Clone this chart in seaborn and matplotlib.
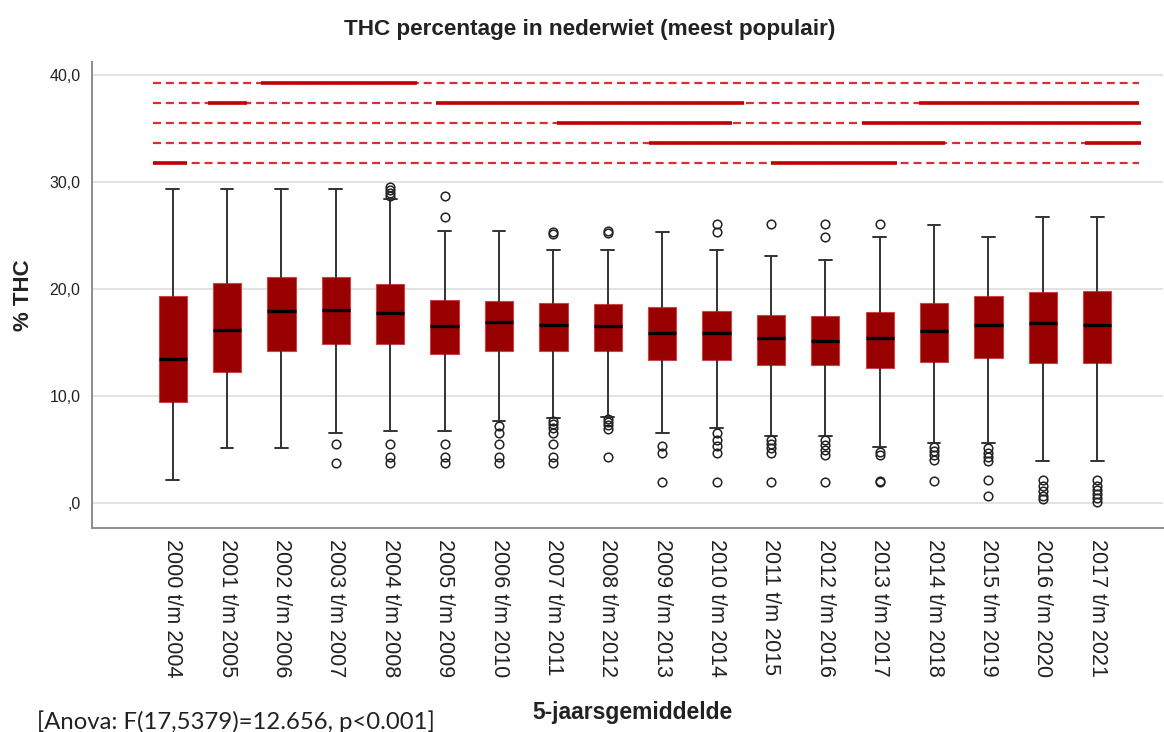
import numpy as np
import matplotlib
matplotlib.use("Agg")
import matplotlib.pyplot as plt
import seaborn as sns

# ---------------- data ----------------
categories = ["2000 t/m 2004", "2001 t/m 2005", "2002 t/m 2006", "2003 t/m 2007",
              "2004 t/m 2008", "2005 t/m 2009", "2006 t/m 2010", "2007 t/m 2011",
              "2008 t/m 2012", "2009 t/m 2013", "2010 t/m 2014", "2011 t/m 2015",
              "2012 t/m 2016", "2013 t/m 2017", "2014 t/m 2018", "2015 t/m 2019",
              "2016 t/m 2020", "2017 t/m 2021"]

whisker_low = [2.18, 5.17, 5.17, 6.54, 6.76, 6.76, 7.69, 7.94, 8.10, 6.54,
               7.00, 6.32, 6.32, 5.29, 5.67, 5.67, 3.95, 3.95]
quartile1 = [9.50, 12.27, 14.23, 14.92, 14.92, 13.98, 14.27, 14.27, 14.27, 13.39,
             13.39, 12.93, 12.93, 12.67, 13.20, 13.60, 13.11, 13.11]
median = [13.46, 16.22, 17.94, 18.07, 17.81, 16.60, 16.97, 16.63, 16.54, 15.95,
          15.95, 15.45, 15.14, 15.48, 16.10, 16.63, 16.82, 16.63]
quartile3 = [19.37, 20.56, 21.15, 21.15, 20.47, 19.03, 18.94, 18.69, 18.60, 18.32,
             17.97, 17.60, 17.50, 17.88, 18.69, 19.37, 19.75, 19.87]
whisker_high = [29.35, 29.35, 29.35, 29.35, 28.40, 25.45, 25.45, 23.64, 23.64, 25.33,
                23.64, 23.10, 22.74, 24.92, 26.00, 24.92, 26.73, 26.73]
outliers = [
    [],
    [],
    [],
    [5.54, 3.74],
    [29.60, 29.30, 29.00, 28.70, 5.54, 4.36, 3.74],
    [28.75, 26.73, 5.54, 4.36, 3.74],
    [7.22, 6.60, 5.54, 4.36, 3.74],
    [25.40, 25.20, 7.72, 7.41, 7.00, 6.54, 5.54, 4.36, 3.74],
    [25.45, 25.30, 7.90, 7.60, 7.30, 6.90, 4.30],
    [5.36, 4.67, 2.02],
    [26.10, 25.33, 6.54, 5.92, 5.36, 4.67, 2.02],
    [26.10, 5.92, 5.54, 5.14, 4.67, 2.02],
    [26.10, 24.92, 5.92, 5.45, 4.98, 4.52, 2.02],
    [26.10, 4.83, 4.52, 2.07, 1.95],
    [5.29, 4.89, 4.49, 4.05, 2.07],
    [5.20, 4.73, 4.36, 3.99, 2.14, 0.64],
    [2.17, 1.64, 1.17, 0.70, 0.39],
    [2.17, 1.64, 1.23, 0.86, 0.48, 0.08],
]

# homogeneous subsets (row 0 = top row), extent in category units
subset_row = [0, 1, 1, 1, 2, 2, 3, 3, 4, 4]
subset_start = [1.63, 0.64, 4.85, 13.72, 7.06, 12.67, 8.76, 16.77, -0.36, 11.01]
subset_end = [4.50, 1.37, 10.50, 17.77, 10.29, 17.80, 14.21, 17.80, 0.27, 13.31]

ytick_values = [0, 10, 20, 30, 40]
ytick_labels = [",0", "10,0", "20,0", "30,0", "40,0"]

title = "THC percentage in nederwiet (meest populair)"
ylabel = "% THC"
xlabel = "5-jaarsgemiddelde"
note = "[Anova: F(17,5379)=12.656, p<0.001]"

# ---------------- styling ----------------
sns.set_style("white")
plt.rcParams["font.family"] = ["Liberation Sans", "DejaVu Sans"]

W, H = 1164, 732
fig = plt.figure(figsize=(W / 100, H / 100), dpi=100)
ax_left, ax_right, ax_top, ax_bottom = 91.7, 1163.0, 62.0, 527.7
ax = fig.add_axes([ax_left / W, 1 - ax_bottom / H, (ax_right - ax_left) / W,
                   (ax_bottom - ax_top) / H])

stats = []
for i, c in enumerate(categories):
    stats.append(dict(label=c, whislo=whisker_low[i], q1=quartile1[i], med=median[i],
                      q3=quartile3[i], whishi=whisker_high[i],
                      fliers=np.array(outliers[i], dtype=float)))

ax.bxp(stats, positions=np.arange(len(categories)), widths=0.52, capwidths=0.235,
       patch_artist=True, showfliers=True, manage_ticks=False,
       boxprops=dict(facecolor="#990000", edgecolor="#c94545", linewidth=0.8),
       medianprops=dict(color="black", linewidth=2.4, solid_capstyle="butt"),
       whiskerprops=dict(color="#333333", linewidth=1.4),
       capprops=dict(color="#333333", linewidth=1.4),
       flierprops=dict(marker="o", markerfacecolor="none", markeredgecolor="#222222",
                       markersize=6.2, markeredgewidth=1.1))

# subset rows
row_levels = [39.25, 37.38, 35.51, 33.64, 31.78]
dash_start, dash_end = -0.36, 17.77
for y in row_levels:
    ax.plot([dash_start, dash_end], [y, y], color="#d63030", lw=1.6,
            dashes=(3.6, 2.2), zorder=3)
for r, s, e in zip(subset_row, subset_start, subset_end):
    y = row_levels[r]
    ax.plot([s, e], [y, y], color="#c00000", lw=2.6, solid_capstyle="butt", zorder=4)

# axes
ax.set_xlim(-1.49, 18.21)
ax.set_ylim(-2.28, 41.24)
ax.set_yticks(ytick_values)
ax.set_yticklabels(ytick_labels, fontsize=11.5, color="#222222")
ax.set_xticks(np.arange(len(categories)))
ax.set_xticklabels(categories, rotation=-90, fontsize=15.5, color="#222222",
                   ha="center", va="top")
ax.tick_params(axis="both", length=0)
ax.tick_params(axis="x", pad=8)
ax.tick_params(axis="y", pad=8)
ax.yaxis.grid(True, color="#e3e3e3", lw=1.4)
ax.xaxis.grid(False)
ax.set_axisbelow(True)
for side in ["top", "right"]:
    ax.spines[side].set_visible(False)
for side in ["left", "bottom"]:
    ax.spines[side].set_color("#8c8c8c")
    ax.spines[side].set_linewidth(1.4)

ax.set_ylabel(ylabel, fontsize=16, fontweight="bold", color="#222222")
ax.yaxis.set_label_coords((34 - ax_left) / (ax_right - ax_left), 0.5)

fig.text(589.5 / W, 1 - 29 / H, title, ha="center", va="center", fontsize=16.2,
         fontweight="bold", color="#222222")
fig.text(632 / W, 1 - 713 / H, xlabel, ha="center", va="center", fontsize=16.5,
         fontweight="bold", color="#222222")
fig.text(36.7 / W, 1 - 729 / H, note, ha="left", va="baseline", fontsize=17.2,
         family=["Lato", "DejaVu Sans"], color="#222222")

fig.savefig("out.png", dpi=100)
